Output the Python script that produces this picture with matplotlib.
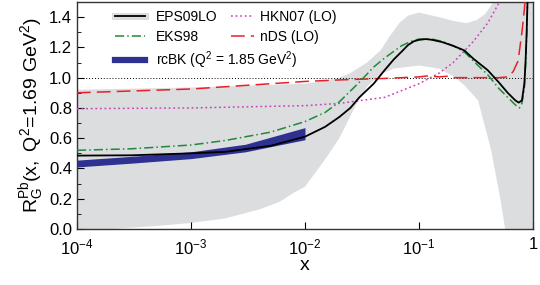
import numpy as np
import matplotlib
matplotlib.use("Agg")
import matplotlib.pyplot as plt
from matplotlib.lines import Line2D

plt.rcParams['font.family'] = ['Liberation Sans', 'DejaVu Sans']
plt.rcParams['mathtext.fontset'] = 'custom'
plt.rcParams['mathtext.rm'] = 'Liberation Sans'
plt.rcParams['mathtext.it'] = 'Liberation Sans:italic'
plt.rcParams['mathtext.default'] = 'regular'

# EPS09LO central curve
eps_x = [1e-4, 3e-4, 1e-3, 2e-3, 5e-3, 1e-2, 1.5e-2, 2e-2, 2.5e-2, 3e-2, 4e-2, 5e-2, 6e-2, 7e-2,
         8e-2, 9e-2, 0.1, 0.115, 0.13, 0.16, 0.2, 0.25, 0.3, 0.4, 0.5, 0.6, 0.7, 0.75, 0.8, 0.84,
         0.86, 0.88, 0.895, 0.91]
eps_y = [0.485, 0.487, 0.50, 0.51, 0.55, 0.61, 0.675, 0.74, 0.80, 0.87, 0.96, 1.05, 1.12, 1.17,
         1.215, 1.24, 1.25, 1.255, 1.25, 1.235, 1.21, 1.18, 1.125, 1.05, 0.97, 0.90, 0.85, 0.835,
         0.85, 0.96, 1.1, 1.3, 1.5, 1.7]

# EPS09 uncertainty band
band_up_x = [1e-4, 1e-3, 1e-2, 1.5e-2, 2e-2, 2.5e-2, 3.5e-2, 4.6e-2, 5.5e-2, 6.7e-2, 8e-2, 0.1,
             0.15, 0.2, 0.26, 0.32, 0.38, 0.45, 0.5, 1.0]
band_up_y = [0.92, 0.935, 0.96, 0.98, 1.0, 1.03, 1.10, 1.18, 1.27, 1.36, 1.41, 1.43,
             1.40, 1.375, 1.36, 1.38, 1.42, 1.5, 1.6, 1.6]
band_lo_x = [1e-4, 2e-4, 5e-4, 1e-3, 2e-3, 4e-3, 6e-3, 8e-3, 1e-2, 1.2e-2, 1.5e-2, 2e-2, 2.8e-2,
             3.5e-2, 4.5e-2, 6e-2, 0.1, 0.15, 0.2, 0.25, 0.33, 0.43, 0.52, 0.57, 1.0]
band_lo_y = [0.0, 0.0, 0.02, 0.04, 0.07, 0.13, 0.18, 0.24, 0.28, 0.36, 0.46, 0.60, 0.82,
             0.94, 1.02, 1.06, 1.08, 1.06, 1.01, 0.95, 0.85, 0.52, 0.19, 0.0, 0.0]

# EKS98
eks_x = [1e-4, 3e-4, 1e-3, 2e-3, 5e-3, 1e-2, 1.5e-2, 2e-2, 3e-2, 4e-2, 5e-2, 7e-2, 0.085, 0.1,
         0.13, 0.16, 0.2, 0.25, 0.3, 0.4, 0.5, 0.6, 0.7, 0.76, 0.8, 0.84, 0.87, 0.89, 0.905]
eks_y = [0.52, 0.53, 0.555, 0.585, 0.64, 0.71, 0.77, 0.84, 0.97, 1.07, 1.13, 1.21, 1.24, 1.255,
         1.255, 1.24, 1.21, 1.17, 1.11, 1.02, 0.93, 0.87, 0.82, 0.80, 0.83, 0.93, 1.15, 1.4, 1.7]

# HKN07 (LO)
hkn_x = [1e-4, 1e-3, 1e-2, 2e-2, 5e-2, 0.1, 0.15, 0.2, 0.3, 0.4, 0.5, 0.55]
hkn_y = [0.795, 0.80, 0.815, 0.83, 0.87, 0.96, 1.03, 1.10, 1.24, 1.36, 1.49, 1.56]

# nDS (LO)
nds_x = [1e-4, 1e-3, 1e-2, 2e-2, 5e-2, 0.1, 0.12, 0.15, 0.18, 0.2, 0.3, 0.5, 0.6, 0.67, 0.74,
         0.8, 0.84, 0.87]
nds_y = [0.90, 0.925, 0.975, 0.985, 0.995, 1.005, 1.012, 1.005, 1.01, 1.0, 1.0, 1.0, 1.005, 1.04,
         1.11, 1.3, 1.45, 1.6]

# rcBK band
rcbk_x = [1e-4, 3e-4, 1e-3, 3e-3, 1e-2]
rcbk_lo = [0.41, 0.435, 0.465, 0.51, 0.59]
rcbk_hi = [0.455, 0.48, 0.51, 0.56, 0.67]

fig = plt.figure(figsize=(5.4, 2.85), dpi=100)
ax = fig.add_axes([0.1426, 0.1965, 0.8444, 0.7965])

ax.fill(np.concatenate([band_up_x, band_lo_x[::-1]]),
        np.concatenate([band_up_y, band_lo_y[::-1]]),
        color='#dcdddf', lw=0, zorder=1)

ax.axhline(1.0, color='black', ls=(0, (1, 2)), lw=0.7, zorder=2)

ax.fill_between(rcbk_x, rcbk_lo, rcbk_hi, color='#2e3192', lw=0, zorder=3)
ax.plot(hkn_x, hkn_y, color='#cc44bb', ls=(0, (1.2, 1.8)), lw=1.1, zorder=4)
ax.plot(nds_x, nds_y, color='#e8202a', ls=(0, (9, 4)), lw=1.1, zorder=4)
ax.plot(eks_x, eks_y, color='#1f8a3a', ls=(0, (6, 2, 1, 2)), lw=1.1, zorder=5)
ax.plot(eps_x, eps_y, color='black', lw=1.3, zorder=6)

ax.set_xscale('log')
ax.set_xlim(1e-4, 1)
ax.set_ylim(0, 1.5)
ax.set_xticks([1e-4, 1e-3, 1e-2, 1e-1, 1])
ax.set_xticklabels(['$10^{-4}$', '$10^{-3}$', '$10^{-2}$', '$10^{-1}$', '1'])
ax.xaxis.set_minor_locator(matplotlib.ticker.NullLocator())
ax.set_yticks(np.arange(0, 1.41, 0.2))
ax.set_yticks(np.arange(0.1, 1.5, 0.2), minor=True)
ax.set_yticklabels(['%.1f' % v for v in np.arange(0, 1.41, 0.2)])
ax.tick_params(axis='both', which='both', direction='in', labelsize=12)
ax.tick_params(axis='y', which='major', length=5)
ax.tick_params(axis='y', which='minor', length=3)
ax.tick_params(axis='x', which='major', length=5, pad=6)
for s in ax.spines.values():
    s.set_linewidth(1.0)
    s.set_color('#333333')

ax.set_xlabel('x', fontsize=14, labelpad=0)
ax.set_ylabel(r'$R^{Pb}_{G}(x,\ Q^2\!=\!1.69\ GeV^2)$', fontsize=14, labelpad=2)

h_eps = (Line2D([], [], color='#dcdddf', lw=5), Line2D([], [], color='black', lw=1.3))
h_eks = Line2D([], [], color='#1f8a3a', ls=(0, (6, 2, 1, 2)), lw=1.1)
h_rc = Line2D([], [], color='#2e3192', lw=4.5)
h_hkn = Line2D([], [], color='#cc44bb', ls=(0, (1.2, 1.8)), lw=1.1)
h_nds = Line2D([], [], color='#e8202a', ls=(0, (9, 4)), lw=1.1)

leg1 = ax.legend([h_eps, h_eks, h_rc], ['EPS09LO', 'EKS98', r'rcBK (Q$^2$ = 1.85 GeV$^2$)'],
                 loc='upper left', bbox_to_anchor=(0.055, 1.02), frameon=False, fontsize=10,
                 handlelength=2.2, handletextpad=0.8, labelspacing=0.4)
ax.add_artist(leg1)
ax.legend([h_hkn, h_nds], ['HKN07 (LO)', 'nDS (LO)'],
          loc='upper left', bbox_to_anchor=(0.31, 1.02), frameon=False, fontsize=10,
          handlelength=1.7, handletextpad=0.4, labelspacing=0.4)

fig.savefig('out.png', dpi=100)
